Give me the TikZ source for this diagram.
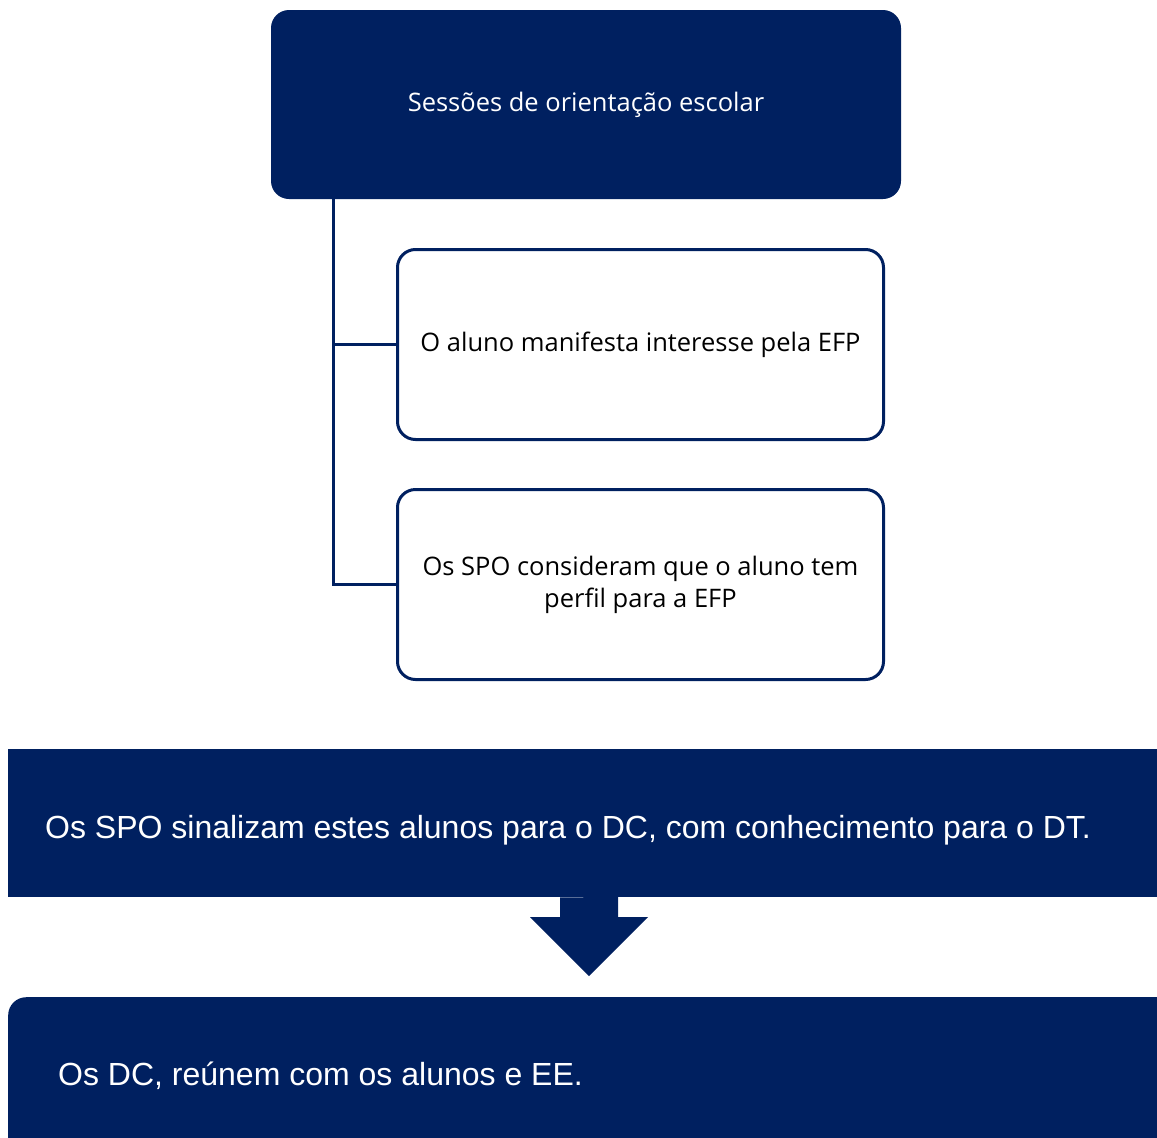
\documentclass[tikz,border=0pt]{standalone}
\usepackage{fontspec}
\setmainfont{Open Sans}
\newfontfamily\arialfont{Liberation Sans}
\definecolor{marinho}{RGB}{0,32,96}
\tikzset{
  topo/.style={fill=marinho, rounded corners=18pt, text=white, minimum width=630pt, minimum height=189pt, font=\fontsize{25.5}{32}\selectfont},
  ramo/.style={draw=marinho, line width=3pt, rounded corners=18pt, fill=white, minimum width=486pt, minimum height=190pt, align=center, font=\fontsize{25.5}{32}\selectfont},
  faixa/.style={fill=marinho, inner sep=0pt, anchor=north west},
  rotulo/.style={text=white, anchor=west, inner sep=0pt, font=\arialfont\fontsize{32}{38}\selectfont},
  liga/.style={draw=marinho, line width=3pt},
}
\begin{document}
\begin{tikzpicture}[x=1pt, y=-1pt]
        \useasboundingbox (0,0) rectangle (1157,1138);

        % ===== orientacao =====
        \node[topo] (sessoes) at (586, 104.5) {Sessões de orientação escolar};
        \node[ramo] (interesse) at (640.5, 344.5) {O aluno manifesta interesse pela EFP};
        \node[ramo] (perfil) at (640.5, 584.5) {Os SPO consideram que o aluno tem\\perfil para a EFP};

        \coordinate (tronco) at (333, 199);
        \draw[liga] (tronco) |- (interesse.west);
        \draw[liga] (tronco) |- (perfil.west);

        % ===== sinalizacao =====
        \node[faixa, minimum width=1149pt, minimum height=148pt] (banner) at (8, 749) {};
        \node[rotulo] (sinaliza) at (45, 830)
            {Os SPO sinalizam estes alunos para o DC, com conhecimento para o DT.};

        % seta para baixo
        \fill[marinho] (banner.south -| 560, 0) -- (618, 897) -- (618, 917) -- (648, 917)
            -- (589, 976) -- (530, 917) -- (560, 917) -- cycle;

        % ===== reuniao =====
        \node[faixa, rounded corners=18pt, minimum width=1180pt, minimum height=170pt] (reuniao) at (8, 997) {};
        \node[rotulo] (reunem) at (58, 1076) {Os DC, reúnem com os alunos e EE.};
    \end{tikzpicture}
\end{document}
